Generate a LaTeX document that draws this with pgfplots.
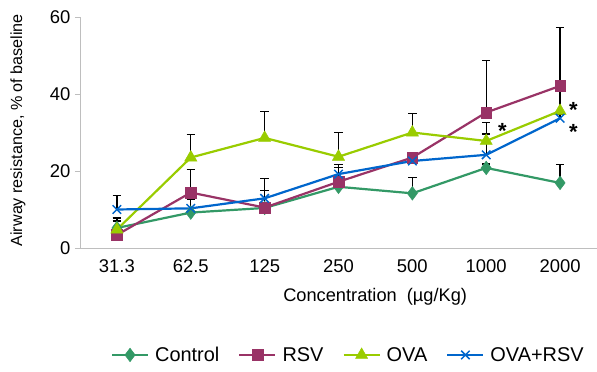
\documentclass[border=0pt]{standalone}
\usepackage{fontspec}
\setmainfont{Liberation Sans}
\usepackage{pgfplots}
\usepackage{pgfplotstable}
\pgfplotsset{compat=1.18}
\usetikzlibrary{calc}
\definecolor{cctrl}{RGB}{51,153,102}
\definecolor{crsv}{RGB}{153,51,102}
\definecolor{cova}{RGB}{153,204,0}
\definecolor{cboth}{RGB}{0,102,204}
\definecolor{axgray}{RGB}{190,190,190}
\pgfplotstableread{
x y e
0 5.2 2.6
1 9.2 1
2 10.4 1
3 15.9 1
4 14.2 4.1
5 20.8 1
6 16.9 4.7
}\tctrl
\pgfplotstableread{
x y e
0 3.4 3.6
1 14.4 5.9
2 10.5 4.4
3 17.2 3.8
4 23.5 1
5 35.2 13.4
6 42.1 15.2
}\trsv
\pgfplotstableread{
x y e
0 4.8 3.0
1 23.5 6.0
2 28.6 6.8
3 23.7 6.3
4 30.0 5.0
5 27.8 4.9
6 35.6 5.0
}\tova
\pgfplotstableread{
x y e
0 10.0 3.6
1 10.3 2.4
2 12.9 5.2
3 19.2 2.5
4 22.6 1
5 24.2 5.4
6 33.7 1
}\tboth
\begin{document}
\begin{tikzpicture}
\begin{axis}[
  scale only axis,
  width=517bp, height=231bp,
  xmin=-0.5, xmax=6.5, ymin=0, ymax=60,
  axis x line=bottom, axis y line=left,
  axis line style={axgray, line width=0.8bp, -},
  xtick={0,...,6},
  xticklabels={31.3,62.5,125,250,500,1000,2000},
  minor xtick={0.5,1.5,...,5.5},
  ytick={0,20,40,60},
  tick align=outside,
  xtick style={draw=none},
  minor x tick style={axgray, line width=0.8bp},
  minor tick length=6bp,
  ytick style={axgray, line width=0.8bp},
  major tick length=5bp,
  /pgf/number format/assume math mode=true,
  ticklabel style={font=\fontsize{18.5}{21}\selectfont},
  xticklabel style={yshift=-3bp},
  yticklabel style={xshift=-1bp},
  xlabel={Concentration\ \ (\textmu g/Kg)},
  ylabel={Airway resistance, \% of baseline},
  xlabel style={at={(axis description cs:0.571,-0.212)}, anchor=center, font=\fontsize{18.3}{21}\selectfont},
  ylabel style={at={(axis description cs:-0.120,0.51)}, anchor=center, font=\fontsize{16.2}{19}\selectfont},
  legend style={at={(axis description cs:0.519,-0.463)}, anchor=center, draw=none, fill=none,
    legend columns=4, font=\fontsize{20}{23}\selectfont,
    /tikz/every odd column/.append style={column sep=4bp},
    /tikz/every even column/.append style={column sep=17bp}},
  legend image code/.code={\draw[mark repeat=2,mark phase=2] plot coordinates {(0bp,0bp)(18bp,0bp)(36bp,0bp)};},
  clip=false,
  every axis plot/.append style={line width=2.2bp},
  error bars/y dir=plus, error bars/y explicit,
  error bars/error bar style={black, line width=1.2bp},
  error bars/error mark options={black, mark size=4.2bp, line width=1.2bp, rotate=90},
]
\addplot[cctrl, mark=diamond*, mark size=6.8bp, mark options={solid, fill=cctrl, line width=0.5bp}] table[x=x,y=y,y error=e] {\tctrl};
\addlegendentry{Control}
\addplot[crsv, mark=square*, mark size=5.3bp, mark options={solid, fill=crsv, line width=0.5bp}] table[x=x,y=y,y error=e] {\trsv};
\addlegendentry{RSV}
\addplot[cova, mark=triangle*, mark size=7bp, mark options={solid, fill=cova, line width=0.5bp}] table[x=x,y=y,y error=e] {\tova};
\addlegendentry{OVA}
\addplot[cboth, mark=x, mark size=6bp, mark options={solid, line width=1.5bp}] table[x=x,y=y,y error=e] {\tboth};
\addlegendentry{OVA+RSV}
\node[font=\fontsize{22}{22}\selectfont\bfseries, inner sep=0pt] at (axis cs:5.22,30.5) {*};
\node[font=\fontsize{22}{22}\selectfont\bfseries, inner sep=0pt] at (axis cs:6.18,35.9) {*};
\node[font=\fontsize{22}{22}\selectfont\bfseries, inner sep=0pt] at (axis cs:6.18,30.1) {*};
\end{axis}
\pgfresetboundingbox
\useasboundingbox ($(current axis.south west)+(-80bp,-124bp)$) rectangle ++(597bp,372bp);
\end{tikzpicture}
\end{document}
